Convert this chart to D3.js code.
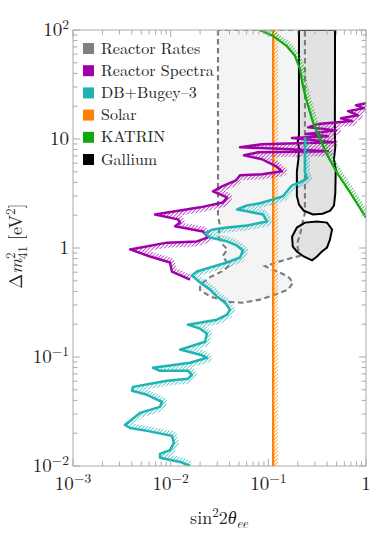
<!DOCTYPE html>
<html><head><meta charset="utf-8">
<script src="https://cdn.jsdelivr.net/npm/d3@7"></script>
<style>body{margin:0;background:#fff}</style>
</head><body>
<svg id="c" width="374" height="535"></svg>
<script>
// ---- data ----
const legendLabels = ["Reactor Rates","Reactor Spectra","DB+Bugey–3","Solar","KATRIN","Gallium"];
const legendColors = ["#808080","#a000aa","#1fb3b3","#ff8000","#10a810","#000000"];
const xTickVals = [1e-3,1e-2,1e-1,1];
const xTickLabels = [["10","−3"],["10","−2"],["10","−1"],["1",""]];
const yTickVals = [1e-2,1e-1,1,10,100];
const yTickLabels = [["10","−2"],["10","−1"],["1",""],["10",""],["10","2"]];

// [sin^2 2theta, dm2]
const ratesContour = [[0.0305,100],[0.0305,2.0],[0.032,1.58],[0.0305,1.28],[0.034,1.08],[0.038,0.97],[0.034,0.84],[0.040,0.69],[0.0335,0.61],[0.0253,0.54],[0.020,0.46],[0.020,0.41],[0.0253,0.36],[0.0378,0.32],[0.055,0.315],[0.082,0.336],[0.117,0.373],[0.159,0.415],[0.179,0.48],[0.159,0.55],[0.117,0.62],[0.0925,0.68],[0.123,0.74],[0.166,0.80],[0.211,0.85],[0.196,1.08],[0.211,1.33],[0.226,1.75],[0.237,2.1],[0.237,100]];
const galliumUpper = [[0.206,100],[0.206,11],[0.200,9.5],[0.206,8.2],[0.203,6.5],[0.196,5],[0.196,3],[0.206,2.5],[0.23,2.2],[0.286,2.03],[0.36,2.06],[0.43,2.2],[0.47,2.45],[0.485,3.2],[0.49,5.3],[0.47,6.5],[0.485,8.5],[0.48,11],[0.482,100]];
const galliumLower = [[0.175,1.27],[0.196,1.54],[0.237,1.71],[0.315,1.75],[0.399,1.71],[0.449,1.48],[0.428,1.2],[0.399,1.01],[0.354,0.93],[0.315,0.836],[0.28,0.77],[0.23,0.836],[0.196,0.93],[0.178,1.03]];
const spectraCurve = [[1.0,21.3],[0.79,20.4],[0.953,19.2],[0.655,18.0],[0.828,16.5],[0.555,15.5],[0.72,14.6],[0.322,13.7],[0.255,12.8],[0.493,12.0],[0.243,11.1],[0.408,10.6],[0.175,10.2],[0.459,9.33],[0.0861,8.95],[0.0513,8.4],[0.167,8.05],[0.408,7.72],[0.0784,7.55],[0.0563,7.09],[0.0861,6.52],[0.12,5.62],[0.138,5.05],[0.0861,4.74],[0.0513,4.64],[0.0467,4.18],[0.0336,3.68],[0.0271,3.31],[0.0378,2.91],[0.0343,2.62],[0.020,2.36],[0.00692,2.03],[0.0119,1.83],[0.0125,1.71],[0.0111,1.58],[0.0214,1.42],[0.0241,1.25],[0.0186,1.15],[0.00916,1.12],[0.00384,0.97],[0.00614,0.836],[0.00984,0.736],[0.0103,0.608],[0.0158,0.513]];
const bugeyCurve = [[0.237,10.4],[0.237,4.94],[0.249,4.35],[0.211,4.0],[0.175,3.76],[0.141,2.98],[0.112,2.79],[0.0822,2.57],[0.0605,2.46],[0.0478,2.26],[0.0605,2.17],[0.0881,2.03],[0.0968,1.75],[0.0605,1.61],[0.0378,1.54],[0.0271,1.48],[0.0225,1.36],[0.0253,1.25],[0.0378,1.15],[0.0478,1.05],[0.0551,0.949],[0.0513,0.818],[0.0378,0.736],[0.0253,0.662],[0.0186,0.608],[0.0165,0.559],[0.020,0.482],[0.0253,0.415],[0.0298,0.358],[0.036,0.315],[0.0405,0.272],[0.0378,0.245],[0.0298,0.220],[0.0150,0.198],[0.020,0.182],[0.0235,0.164],[0.0225,0.138],[0.0125,0.117],[0.020,0.105],[0.0235,0.0985],[0.0158,0.0885],[0.00659,0.0796],[0.00778,0.0748],[0.0150,0.0748],[0.0165,0.0687],[0.0150,0.0631],[0.00916,0.0605],[0.00411,0.0532],[0.00402,0.049],[0.00573,0.045],[0.00815,0.0388],[0.00778,0.0349],[0.00485,0.0307],[0.0034,0.0238],[0.00384,0.0223],[0.00573,0.021],[0.0103,0.0189],[0.0108,0.0163],[0.00984,0.014],[0.00778,0.0129],[0.00778,0.0119],[0.0125,0.0109],[0.0158,0.01]];
const katrinCurve = [[0.081,100],[0.112,88],[0.155,71],[0.187,58],[0.211,44],[0.226,30.5],[0.249,21.8],[0.286,14.3],[0.338,9.95],[0.408,6.9],[0.505,4.9],[0.686,3.24],[0.91,2.17],[1.0,1.9]];
const solarSin2 = 0.112;

// ---- layout ----
const L = 73, R = 366, T = 30, B = 466;
const FONT = "'Latin Modern Roman','Liberation Serif','DejaVu Serif',serif";
const svg = d3.select("#c");
const x = d3.scaleLog().domain([1e-3,1]).range([L,R]);
const y = d3.scaleLog().domain([1e-2,1e2]).range([B,T]);
const line = d3.line().x(d=>x(d[0])).y(d=>y(d[1]));
const defs = svg.append("defs");

defs.append("clipPath").attr("id","plotclip").append("rect")
  .attr("x",L).attr("y",T).attr("width",R-L).attr("height",B-T);

function hatch(id,color){
  const p = defs.append("pattern").attr("id",id).attr("patternUnits","userSpaceOnUse")
    .attr("width",2.6).attr("height",2.6).attr("patternTransform","rotate(45)");
  p.append("rect").attr("x",0).attr("y",0).attr("width",0.75).attr("height",2.6).attr("fill",color);
}
const cSpec = legendColors[1], cBug = legendColors[2], cSol = legendColors[3], cKat = legendColors[4];
hatch("hSpec",cSpec); hatch("hBug",cBug); hatch("hSol",cSol); hatch("hKat",cKat);

const g = svg.append("g").attr("clip-path","url(#plotclip)");

// fills
g.append("path").attr("d",line(ratesContour)+"Z").attr("fill","#f4f4f4").attr("stroke","none");
g.append("path").attr("d",line(galliumUpper)+"Z").attr("fill","#e2e2e2").attr("stroke","none");
g.append("path").attr("d",line(galliumLower)+"Z").attr("fill","#e2e2e2").attr("stroke","none");
g.append("path").attr("d",line(ratesContour)+"Z").attr("fill","none").attr("stroke","#7c7c7c")
  .attr("stroke-width",2.1).attr("stroke-dasharray","5.5,3.5");
g.append("path").attr("d",line(galliumUpper)+"Z").attr("fill","none").attr("stroke","#000").attr("stroke-width",2);
g.append("path").attr("d",line(galliumLower)+"Z").attr("fill","none").attr("stroke","#000").attr("stroke-width",2);

function hatchedCurve(data, pid, color, extra, id, w){
  const pts = data.map(d=>[x(d[0]),y(d[1])]);
  const poly = pts.concat(extra(pts));
  defs.append("clipPath").attr("id",id).append("path")
    .attr("d","M"+poly.map(p=>p.join(",")).join("L")+"Z");
  g.append("path").attr("d",line(data)).attr("fill","none").attr("stroke","url(#"+pid+")")
    .attr("stroke-width",10).attr("stroke-linejoin","round").attr("opacity",0.85)
    .attr("clip-path","url(#"+id+")");
  g.append("path").attr("d",line(data)).attr("fill","none").attr("stroke",color)
    .attr("stroke-width",w).attr("stroke-linejoin","round");
}
// solar
const sx = x(solarSin2);
g.append("rect").attr("x",sx).attr("y",T).attr("width",5).attr("height",B-T).attr("fill","url(#hSol)").attr("opacity",0.85);
g.append("line").attr("x1",sx).attr("x2",sx).attr("y1",T).attr("y2",B).attr("stroke",cSol).attr("stroke-width",2.2);

hatchedCurve(spectraCurve,"hSpec",cSpec,pts=>[[600,pts[pts.length-1][1]],[600,pts[0][1]]],"cSpec",2.5);
hatchedCurve(bugeyCurve,"hBug",cBug,pts=>[[600,pts[pts.length-1][1]],[600,pts[0][1]]],"cBug",2.5);
hatchedCurve(katrinCurve,"hKat",cKat,pts=>[[600,pts[pts.length-1][1]],[600,-200],[pts[0][0],-200]],"cKat",2.2);

// ---- frame & ticks ----
const axisColor = "#aaa";
svg.append("rect").attr("x",L).attr("y",T).attr("width",R-L).attr("height",B-T)
  .attr("fill","none").attr("stroke",axisColor).attr("stroke-width",1);
const isMajor = v => Math.abs(Math.log10(v)-Math.round(Math.log10(v)))<1e-6;
const tk = svg.append("g").attr("stroke",axisColor).attr("stroke-width",1);
x.ticks().forEach(v=>{
  const len = isMajor(v)?7:4.5, px = x(v);
  tk.append("line").attr("x1",px).attr("x2",px).attr("y1",B).attr("y2",B-len);
  tk.append("line").attr("x1",px).attr("x2",px).attr("y1",T).attr("y2",T+len);
});
y.ticks().forEach(v=>{
  const len = isMajor(v)?7:4.5, py = y(v);
  tk.append("line").attr("x1",L).attr("x2",L+len).attr("y1",py).attr("y2",py);
  tk.append("line").attr("x1",R).attr("x2",R-len).attr("y1",py).attr("y2",py);
});

function txt(sel){ return sel.style("font-family",FONT).attr("fill","#222"); }

// tick labels
xTickVals.forEach((v,i)=>{
  const t = txt(svg.append("text")).attr("x",x(v)).attr("y",490).attr("text-anchor","middle")
    .attr("font-size",19);
  t.append("tspan").text(xTickLabels[i][0]);
  if (xTickLabels[i][1]) t.append("tspan").attr("dy",-7.5).attr("font-size",13.5).text(xTickLabels[i][1]);
});
yTickVals.forEach((v,i)=>{
  const t = txt(svg.append("text")).attr("x",69).attr("y",y(v)+6).attr("text-anchor","end")
    .attr("font-size",19);
  t.append("tspan").text(yTickLabels[i][0]);
  if (yTickLabels[i][1]) t.append("tspan").attr("dy",-7.5).attr("font-size",13.5).text(yTickLabels[i][1]);
});

// axis titles
const xt = txt(svg.append("text")).attr("x",219).attr("y",524).attr("text-anchor","middle")
  .attr("font-size",18);
xt.append("tspan").text("sin");
xt.append("tspan").attr("dy",-7).attr("font-size",13).text("2");
xt.append("tspan").attr("dy",7).text("2");
xt.append("tspan").attr("font-style","italic").text("θ");
xt.append("tspan").attr("dy",4).attr("font-size",13).attr("font-style","italic").text("ee");

const yt = txt(svg.append("text")).attr("transform","translate(22,246) rotate(-90)").attr("text-anchor","middle")
  .attr("font-size",18);
yt.append("tspan").text("Δ");
yt.append("tspan").attr("font-style","italic").text("m");
yt.append("tspan").attr("dy",-7).attr("font-size",13).text("2");
yt.append("tspan").attr("dx",-6.5).attr("dy",12).attr("font-size",13).text("41");
yt.append("tspan").attr("dy",-5).text(" [eV");
yt.append("tspan").attr("dy",-7).attr("font-size",13).text("2");
yt.append("tspan").attr("dy",7).text("]");

// legend
legendLabels.forEach((lab,i)=>{
  const cy = 48.5 + i*22.2;
  svg.append("rect").attr("x",83).attr("y",cy-5.5).attr("width",11).attr("height",11).attr("fill",legendColors[i]);
  txt(svg.append("text")).attr("x",101).attr("y",cy+5).attr("font-size",16).text(lab);
});
</script>
</body></html>
